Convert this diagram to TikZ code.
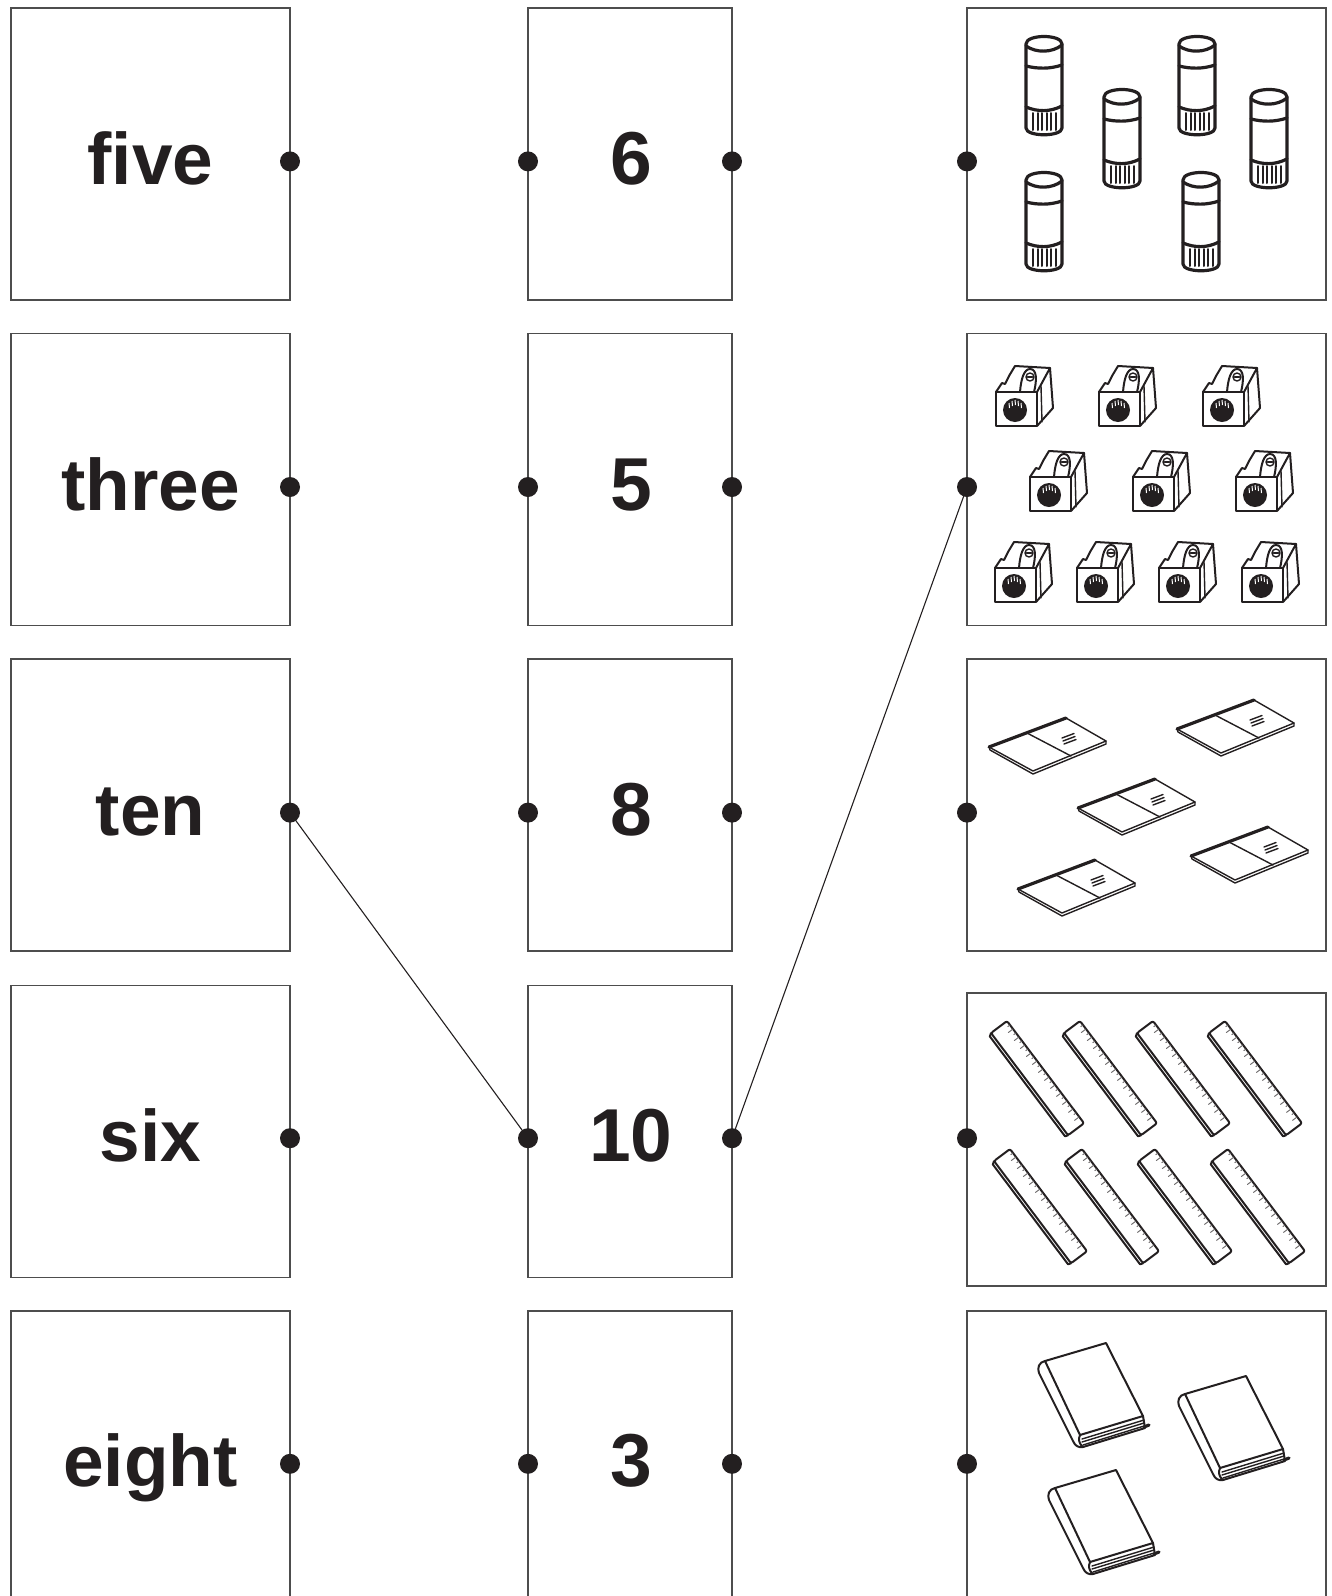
\documentclass[tikz,border=0pt]{standalone}
\usepackage{fontspec}
\setmainfont{Liberation Sans}
\definecolor{ink}{HTML}{231F20}
\definecolor{frame}{HTML}{4D4D4D}
\tikzset{
  boxframe/.style={draw=frame, line width=0.8pt, inner sep=0pt, outer sep=0pt},
  dotmark/.style={circle, fill=ink, inner sep=0pt, minimum size=10pt},
  conn/.style={draw=ink, line width=0.55pt},
  word/.style={font=\fontsize{36.5}{40}\selectfont\bfseries, text=ink, anchor=base, inner sep=0pt},
  num/.style={font=\fontsize{37.5}{40}\selectfont\bfseries, text=ink, anchor=base, inner sep=0pt},
  art/.style={draw=ink, line width=1.6pt, line join=round, line cap=round},
  artm/.style={draw=ink, line width=1pt, line join=round, line cap=round},
  artt/.style={draw=ink, line width=0.7pt, line join=round, line cap=round},
  gluestick/.pic={
    \draw[art] (-18,9) .. controls (-18,-1) and (18,-1) .. (18,9) -- (18,93)
      .. controls (18,102) and (-18,102) .. (-18,93) -- cycle;
    \draw[art] (-18,11) .. controls (-8,18) and (8,18) .. (18,10);
    \draw[art] (-18,31) .. controls (-6,34) and (6,34) .. (18,30);
    \draw[art] (-18,72) .. controls (-6,77) and (6,77) .. (18,71);
    \foreach \u in {-11,-6.5,-2,2.5,7,11.5} \draw[artm] (\u,78) -- (\u,95);
  },
  sharpener/.pic={
    \draw[artm] (0,27) rectangle (41,61);
    \draw[artm] (41,27) -- (54,3) -- (57,43) -- (41,61);
    \draw[artt] (45,21) -- (46,57);
    \draw[artm] (0,27) -- (6,18) -- (9,19) -- (13,11) -- (19,1) -- (54,3);
    \draw[artm] (24,27) .. controls (25,14) and (28,4) .. (34,4) .. controls (41,4) and (41,15) .. (38,27);
    \draw[artt] (34,12) circle (2pt);
    \draw[artt] (31.5,12) -- (36.5,12);
    \fill[ink] (19,45) circle (6pt);
    \foreach \u/\v in {13/38,16/36,19/35,22/36,25/38}
      \draw[white, line width=0.5pt] (\u,\v) -- (\u+0.5,\v+5);
  },
  notebook/.pic={
    \draw[art] (0,29) -- (77,0);
    \draw[artt] (77,0) -- (117,23) -- (44,53) -- (0,29);
    \draw[artt] (0,29) -- (1,32) -- (44,56) -- (117,26) -- (117,23);
    \draw[artt] (38,15) -- (82,38);
    \draw[artt] (73,20) -- (85,15.5);
    \draw[artt] (74,23) -- (86,18.5);
    \draw[artt] (75,26) -- (87,21.5);
  },
  ruler/.pic={
    \draw[artm, rounded corners=1pt] (0,-10) -- (128,-10) -- (128,10) -- (0,10) -- cycle;
    \draw[artm] (0,10) -- (2,13) -- (127,13) -- (128,10);
    \foreach \k [evaluate=\k as \l using {mod(\k,2)==0 ? 6 : 3}] in {1,...,24}
      \draw[draw=ink!70, line width=0.45pt] (5*\k,-10) -- (5*\k,-10+\l);
  },
  book/.pic={
    \draw[artm] (8,18) -- (69,0) -- (106,73) -- (43,92) -- cycle;
    \draw[artm] (8,18) .. controls (2,19) and (0,25) .. (2,30) -- (36,98)
      .. controls (38,103) and (42,105) .. (46,104);
    \draw[artm] (43,92) .. controls (41,96) and (42,101) .. (46,104) -- (108,85) -- (106,73);
    \draw[artt] (45,96) -- (107,77);
    \draw[artt] (45,99) -- (107,80);
    \draw[artt] (46,102) -- (107,83);
    \draw[art] (107,84) -- (112,82);
  }
}
\begin{document}
\begin{tikzpicture}[x=0.5pt, y=-0.5pt]
\useasboundingbox (0,0) rectangle (1332,1596);
\clip (0,0) rectangle (1332,1596);

% boxes
\foreach \i/\c in {1/154,2/479.5,3/805,4/1131.5,5/1457} {
  \node[boxframe, minimum width=139.5pt, minimum height=146pt] (L\i) at (150.5,\c) {};
  \node[boxframe, minimum width=102pt, minimum height=146pt] (M\i) at (630,\c) {};
}
\foreach \i/\c in {1/154,2/479.5,3/805,5/1457}
  \node[boxframe, minimum width=179.5pt, minimum height=146pt] (R\i) at (1146.5,\c) {};
\node[boxframe, minimum width=179.5pt, minimum height=146.5pt] (R4) at (1146.5,1139.5) {};

% words and numbers
\node[word] (w1) at (150.5,184.4) {five};
\node[word] (w2) at (150.5,510) {three};
\node[word] (w3) at (150.5,835.6) {ten};
\node[word] (w4) at (150.5,1161.2) {six};
\node[word] (w5) at (150.5,1486.8) {eight};
\node[num] (n1) at (631,184.4) {6};
\node[num] (n2) at (631,510) {5};
\node[num] (n3) at (631,835.6) {8};
\node[num] (n4) at (631,1161.2) {10};
\node[num] (n5) at (631,1486.8) {3};

% pictures
\pic at (1044,35) {gluestick};
\pic at (1122,88) {gluestick};
\pic at (1197,35) {gluestick};
\pic at (1269,88) {gluestick};
\pic at (1044,171) {gluestick};
\pic at (1201,171) {gluestick};

\foreach \p in {(996,365),(1099,365),(1203,365),(1030,450),(1133,450),(1236,450),(995,541),(1077,541),(1159,541),(1242,541)}
  \pic at \p {sharpener};

\foreach \p in {(989,718),(1177,700),(1078,779),(1191,827),(1018,860)}
  \pic at \p {notebook};

\foreach \p in {(999,1027),(1072,1027),(1145,1027),(1217,1027),(1002,1155),(1074,1155),(1147,1155),(1220,1155)}
  \pic[rotate=-53] at \p {ruler};

\foreach \p in {(1037,1343),(1177,1376),(1047,1470)}
  \pic at \p {book};

% dots
\foreach \i/\y in {1/161.4,2/487,3/812.6,4/1138.2,5/1463.8} {
  \node[dotmark] (Ld\i) at (290,\y) {};
  \node[dotmark] (Mdl\i) at (528,\y) {};
  \node[dotmark] (Mdr\i) at (732,\y) {};
  \node[dotmark] (Rd\i) at (967,\y) {};
}

% connectors
\draw[conn] (Ld3.center) -- (Mdl4.center);
\draw[conn] (Mdr4.center) -- (Rd2.center);
\end{tikzpicture}
\end{document}
